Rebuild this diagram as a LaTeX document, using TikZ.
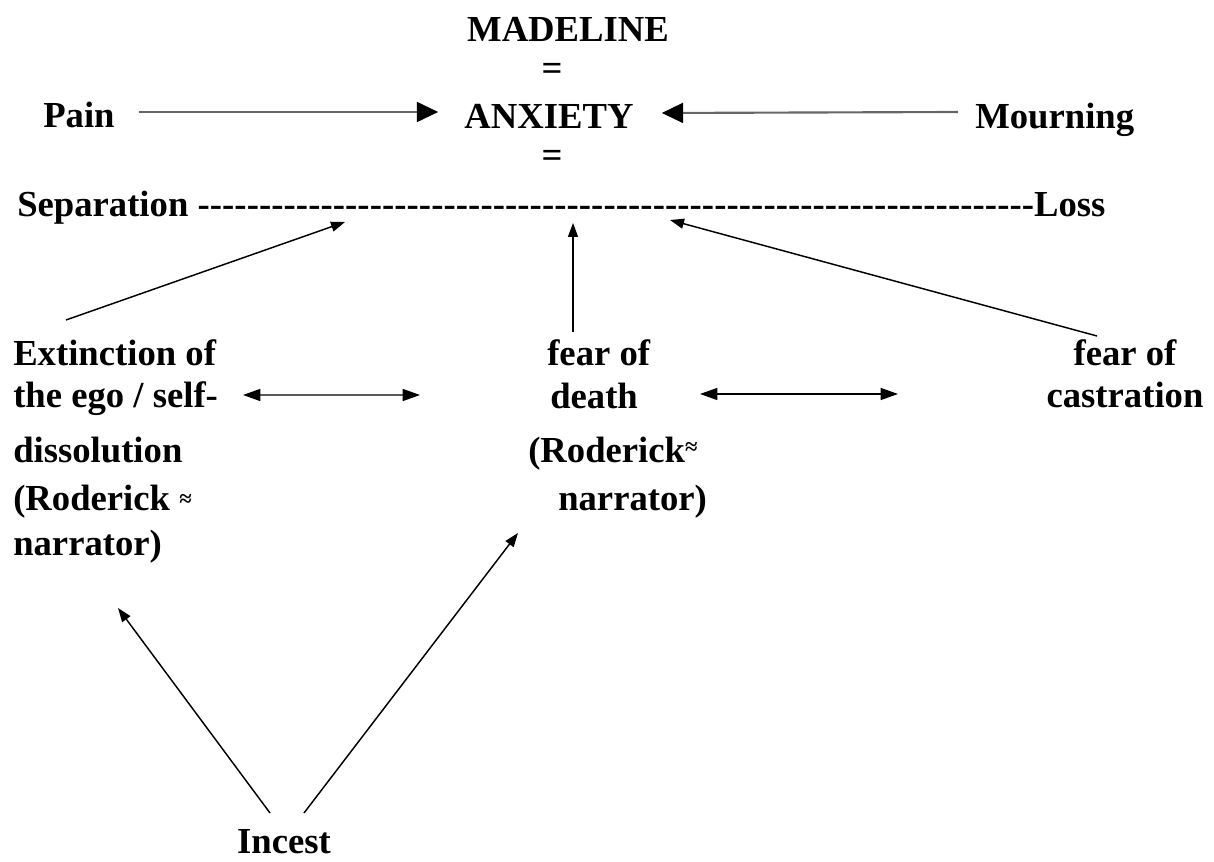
\documentclass[tikz,border=0pt]{standalone}
\usepackage{fontspec}
\setmainfont{Liberation Serif}
\usetikzlibrary{arrows.meta,calc}
\newcommand\hyrow[1]{\foreach\i in {1,...,#1}{\mbox{-}\kern0.07pt}}
\begin{document}
\begin{tikzpicture}[x=0.75pt,y=-0.75pt,
  lbl/.style={inner sep=0pt, font=\fontsize{27.5}{31.5}\selectfont\bfseries},
  thinarr/.style={line width=1.1pt, -{Triangle[length=10.5pt,width=7.5pt]}},
  bigarr/.style={line width=1.6pt, draw=black!60, -{Triangle[length=16pt,width=15pt,color=black]}},
  dblarr/.style={line width=1.1pt, {Triangle[length=13pt,width=9pt]}-{Triangle[length=13pt,width=9pt]}}]
\useasboundingbox (0,0) rectangle (1214,862);

\node[lbl, anchor=base] (madeline) at (568,42) {MADELINE};
\node[lbl] (eq1) at (552,72) {=};
\node[lbl, anchor=base] (anxiety) at (549,129) {ANXIETY};
\node[lbl] (eq2) at (552,159) {=};
\node[lbl, anchor=base west] (pain) at (43,128) {Pain};
\node[lbl, anchor=base west] (mourning) at (975,129) {Mourning};
\node[lbl, anchor=base west] (sep) at (17,217) {Separation \hyrow{68}Loss};

\node[lbl, anchor=north west, align=left] (ext) at (13,339.5)
  {Extinction of\\ the ego / self-\\[9.75pt] dissolution\\[4.5pt]
   (Roderick \raisebox{3pt}{\fontsize{17}{17}\selectfont ≈}\\[2.25pt] narrator)};
\node[lbl, anchor=north west, align=left] (death) at (528,339.6)
  {\hspace*{14.25pt}fear of\\[0.75pt] \hspace*{16.5pt}death\\[9pt]
   (Roderick\raisebox{6pt}{\fontsize{17}{17}\selectfont ≈}\\[4.5pt] \hspace*{22.5pt}narrator)};
\node[lbl, anchor=north, align=center] (castr) at (1125,339.6) {fear of\\ castration};
\node[lbl, anchor=base] (incest) at (284,853) {Incest};

\draw[bigarr] ($(pain.base east)+(24,-16)$) -- ($(anxiety.base west)+(-26,-17)$);
\draw[bigarr] ($(mourning.base west)+(-17,-17)$) -- ($(anxiety.base east)+(28,-16)$);

\draw[thinarr] ($(ext.north west)+(53,-19.5)$) -- ($(sep.base west)+(328,5)$);
\draw[thinarr] ($(death.north west)+(45,-7.6)$) -- ($(sep.base west)+(556,6)$);
\draw[thinarr] ($(castr.north)+(-28,-3.6)$) -- ($(sep.base west)+(653,3)$);

\draw[dblarr] ($(ext.north west)+(230,55.5)$) -- ($(death.north west)+(-108,55.4)$);
\draw[dblarr] ($(death.north west)+(172,54.4)$) -- ($(castr.north)+(-227,54.4)$);

\draw[thinarr] ($(incest.base)+(-14,-40)$) -- ($(ext.north west)+(105,268.5)$);
\draw[thinarr] ($(incest.base)+(20,-40)$) -- ($(death.north west)+(-10,193.4)$);
\end{tikzpicture}
\end{document}
